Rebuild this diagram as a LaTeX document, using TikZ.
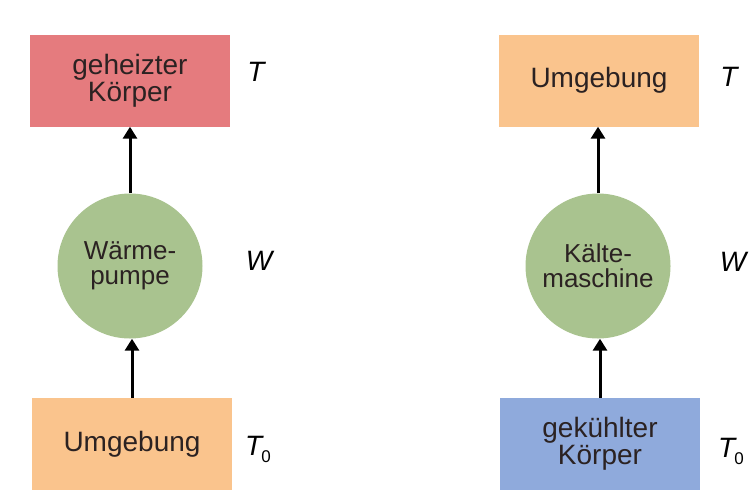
\documentclass[tikz,border=0pt]{standalone}
\usepackage{fontspec}
\setmainfont{Liberation Sans}
\usetikzlibrary{arrows.meta}
\definecolor{heated}{HTML}{E57B7E}
\definecolor{ambient}{HTML}{FAC48D}
\definecolor{cooled}{HTML}{8FAADC}
\definecolor{machine}{HTML}{A9C38F}
\definecolor{ink}{HTML}{2B2222}
\newcommand{\tzero}{{\itshape T}\hspace{-1pt}\raisebox{-7pt}{\fontsize{17}{17}\selectfont 0}}
\begin{document}
\begin{tikzpicture}[x=1pt,y=-1pt,
  reservoir/.style={rectangle, inner sep=0pt, minimum width=200pt, minimum height=92pt,
    text=ink, align=center, font=\fontsize{28}{27}\selectfont},
  engine/.style={circle, inner sep=0pt, minimum size=145pt, fill=machine,
    text=ink, align=center, font=\fontsize{26}{25}\selectfont},
  flow/.style={line width=3pt, -{Triangle[width=14pt,length=12pt]}},
  quantity/.style={inner sep=0pt, font=\fontsize{28}{28}\selectfont\itshape}]
\useasboundingbox (0,0) rectangle (751,491);

% heat pump
\node[reservoir, fill=heated]  (hot1)  at (130,80.5) {geheizter\\Körper};
\node[engine]                  (pump)  at (130,266)  {Wärme-\\pumpe};
\node[reservoir, fill=ambient] (amb1)  at (132,444)  {Umgebung};
\draw[flow] (amb1.north) -- (amb1.north |- pump.south);
\draw[flow] (pump.north) -- (pump.north |- hot1.south);
\node[quantity] (t1)  at (256,72)  {T};
\node[quantity] (w1)  at (259,261) {W};
\node[quantity, font=\fontsize{28}{28}\selectfont] (t01) at (258,449) {\tzero};

% refrigerator
\node[reservoir, fill=ambient] (amb2)  at (599,80.5) {Umgebung};
\node[engine]                  (fridge) at (598,266) {Kälte-\\maschine};
\node[reservoir, fill=cooled]  (cold2) at (600,444)  {gekühlter\\Körper};
\draw[flow] (cold2.north) -- (cold2.north |- fridge.south);
\draw[flow] (fridge.north) -- (fridge.north |- amb2.south);
\node[quantity] (t2)  at (729,77)  {T};
\node[quantity] (w2)  at (733,262) {W};
\node[quantity, font=\fontsize{28}{28}\selectfont] (t02) at (731,451) {\tzero};
\end{tikzpicture}
\end{document}
